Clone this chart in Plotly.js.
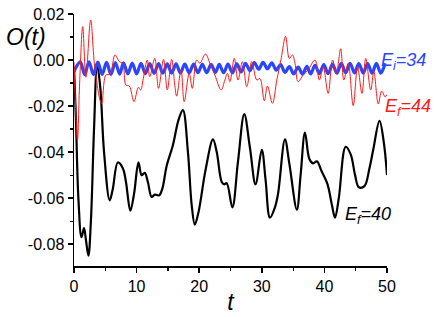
<!DOCTYPE html>
<html>
<head>
<meta charset="utf-8">
<script src="https://cdn.plot.ly/plotly-3.0.1.min.js"></script>
<style>html,body{margin:0;padding:0;background:#fff;}#chart{width:436px;height:317px;}</style>
</head>
<body>
<div id="chart"></div>
<script>
// E_f = 40 (black)
var blackT = [0,0.3,0.7,1.2,1.6,1.9,2.3,2.7,3.2,3.7,4.2,4.8,5.7,6.2,7.0,7.8,8.3,9.0,9.6,10.3,10.8,11.3,11.8,12.4,12.9,13.6,14.1,14.8,15.8,16.7,17.4,18.2,18.8,19.3,19.9,21.0,22.2,22.8,23.6,24.0,24.4,25.3,26.2,27.2,28.1,29.0,30.0,30.6,31.3,32.1,32.6,33.7,34.4,35.6,36.2,36.9,37.6,38.2,38.8,39.5,40.5,41.2,41.7,42.3,43.4,44.2,44.9,45.5,46.4,47.2,47.8,48.8,49.5,50];
var blackV = [-0.003,-0.025,-0.06,-0.077,-0.073,-0.078,-0.085,-0.07,-0.03,-0.002,-0.012,-0.04,-0.061,-0.056,-0.0445,-0.047,-0.053,-0.0655,-0.058,-0.0445,-0.050,-0.049,-0.053,-0.0595,-0.0585,-0.0588,-0.056,-0.046,-0.037,-0.026,-0.0218,-0.040,-0.063,-0.0715,-0.066,-0.048,-0.0345,-0.040,-0.053,-0.054,-0.0535,-0.064,-0.044,-0.0235,-0.038,-0.054,-0.039,-0.052,-0.0685,-0.064,-0.058,-0.0345,-0.045,-0.065,-0.050,-0.0315,-0.043,-0.0449,-0.044,-0.048,-0.054,-0.063,-0.0685,-0.060,-0.0377,-0.041,-0.050,-0.0553,-0.0548,-0.047,-0.039,-0.0264,-0.036,-0.050];

// E_f = 44 (red)
var redT = [0,0.25,0.55,0.9,1.39,1.9,2.66,3.35,4.4,5.1,5.75,6.55,7.24,7.77,8.3,8.84,9.58,10.28,10.65,11.07,11.7,12.1,12.9,13.5,14.3,14.9,15.6,16.1,16.4,17.1,17.6,18.4,18.9,19.6,20.1,21.0,21.7,22.5,23.5,24.1,24.5,24.9,25.6,26.2,26.9,27.6,28.4,29.2,29.7,30.4,30.9,31.7,32.4,33.1,33.8,34.4,34.9,35.3,35.8,36.6,37.4,38.5,39.2,39.8,40.6,41.3,41.9,42.6,43.1,43.8,44.6,45.3,46.0,46.6,47.4,47.9,48.6,49.15,49.7,50];
var redV = [-0.001,-0.02,-0.035,-0.01,0.0145,-0.0075,0.0174,-0.004,-0.019,-0.0065,-0.0062,0.0022,-0.0007,-0.0014,-0.0109,-0.0113,-0.0181,-0.0119,-0.013,-0.008,0.0,-0.0072,0.0007,-0.0123,0.0003,-0.013,0.0003,-0.011,-0.0157,-0.0043,-0.0181,-0.0058,-0.0123,0.0,-0.0014,0.0026,-0.0014,-0.0065,-0.013,-0.0087,-0.0058,-0.0094,0.0007,-0.0087,-0.0007,-0.0116,-0.0007,-0.0087,-0.008,-0.0177,-0.0113,-0.0188,-0.0087,0.0007,0.0103,0.0007,0.0022,-0.0014,-0.0094,-0.0065,-0.0043,0.0,-0.0087,-0.0029,-0.0145,0.0,-0.006,0.0049,-0.0087,-0.0014,-0.0198,-0.0029,-0.0145,0.0007,-0.013,-0.005,-0.0191,-0.0135,-0.016,-0.015];

// E_i = 34 (blue)
var blueT = [0,1.0,1.7,2.4,3.1,3.8,4.5,5.2,5.9,6.6,7.3,7.9,8.6,9.3,10.0,10.7,11.4,12.1,12.8,13.5,14.2,14.9,15.6,16.3,17.0,17.7,18.4,19.1,19.8,20.5,21.2,21.9,22.6,23.2,23.9,24.6,25.3,26.0,26.7,27.4,28.1,28.8,29.5,30.2,30.9,31.6,32.3,33.0,33.7,34.4,35.1,35.8,36.5,37.2,37.8,38.5,39.2,39.9,40.6,41.3,42.0,42.7,43.4,44.1,44.8,45.5,46.2,46.9,47.6,48.3,49.0,49.7];
var blueV = [-0.005,-0.0008,-0.0063,-0.0008,-0.0063,-0.0009,-0.0062,-0.001,-0.0062,-0.0011,-0.0061,-0.0012,-0.006,-0.0013,-0.006,-0.0014,-0.0059,-0.0015,-0.0058,-0.0016,-0.0057,-0.0017,-0.0057,-0.0017,-0.0056,-0.0018,-0.0056,-0.0018,-0.0055,-0.0019,-0.0055,-0.0019,-0.0054,-0.0019,-0.0055,-0.0018,-0.0056,-0.0017,-0.0052,-0.0014,-0.0046,-0.0011,-0.004,-0.001,-0.0038,-0.0012,-0.0044,-0.002,-0.0054,-0.0029,-0.006,-0.0031,-0.0061,-0.0028,-0.006,-0.0023,-0.0059,-0.002,-0.0059,-0.0018,-0.0057,-0.0014,-0.0055,-0.0014,-0.0056,-0.0015,-0.0057,-0.0015,-0.0057,-0.0014,-0.0057,-0.0014];

var yTickVals = [0.02,0.00,-0.02,-0.04,-0.06,-0.08];
var yTickText = ["0.02","0.00","-0.02","-0.04","-0.06","-0.08"];
var xTickVals = [0,10,20,30,40,50];

var fontFam = "Arial, 'Liberation Sans', sans-serif";

var traces = [
  {x: blackT, y: blackV, mode: 'lines', line: {color: '#000000', width: 2.2, shape: 'spline', smoothing: 1}, hoverinfo: 'skip'},
  {x: blueT, y: blueV, mode: 'lines', line: {color: '#2a45ff', width: 3.2, shape: 'spline', smoothing: 1}, hoverinfo: 'skip'},
  {x: redT, y: redV, mode: 'lines', line: {color: '#ff1a1a', width: 1, shape: 'spline', smoothing: 1}, hoverinfo: 'skip'}
];

var layout = {
  width: 436, height: 317,
  margin: {l: 74, r: 49, t: 14, b: 51},
  paper_bgcolor: '#ffffff', plot_bgcolor: '#ffffff',
  showlegend: false,
  font: {family: fontFam, size: 16, color: '#000'},
  xaxis: {
    range: [0, 50], showgrid: false, zeroline: false,
    showline: true, linecolor: '#000', linewidth: 1.5,
    ticks: 'outside', ticklen: 5, tickwidth: 1.5, tickcolor: '#000',
    tickvals: xTickVals, ticktext: xTickVals.map(String),
    minor: {dtick: 5, tick0: 0, ticks: 'outside', ticklen: 3, tickwidth: 1.2, tickcolor: '#000'},
    tickfont: {family: fontFam, size: 16},
    title: {text: '<i>t</i>', font: {family: fontFam, size: 23}, standoff: 0}
  },
  yaxis: {
    range: [-0.0895, 0.02], showgrid: false, zeroline: false,
    showline: true, linecolor: '#000', linewidth: 1.5,
    ticks: 'outside', ticklen: 5, tickwidth: 1.5, tickcolor: '#000',
    tickvals: yTickVals, ticktext: yTickText,
    minor: {dtick: 0.01, tick0: 0, ticks: 'outside', ticklen: 3, tickwidth: 1.2, tickcolor: '#000'},
    tickfont: {family: fontFam, size: 16}
  },
  annotations: [
    {xref: 'paper', yref: 'paper', x: -0.225, y: 0.91, xanchor: 'left', yanchor: 'middle', text: '<i>O(t)</i>', showarrow: false, font: {family: fontFam, size: 23, color: '#000'}},
    {xref: 'x', yref: 'y', x: 48.8, y: -0.0005, xanchor: 'left', yanchor: 'middle', text: '<i>E<sub>i</sub>=34</i>', showarrow: false, font: {family: fontFam, size: 18, color: '#2a45ff'}},
    {xref: 'x', yref: 'y', x: 49.3, y: -0.0205, xanchor: 'left', yanchor: 'middle', text: '<i>E<sub>f</sub>=44</i>', showarrow: false, font: {family: fontFam, size: 18, color: '#ff1a1a'}},
    {xref: 'x', yref: 'y', x: 43.0, y: -0.0675, xanchor: 'left', yanchor: 'middle', text: '<i>E<sub>f</sub>=40</i>', showarrow: false, font: {family: fontFam, size: 18, color: '#000'}}
  ]
};

Plotly.newPlot('chart', traces, layout, {staticPlot: true, displayModeBar: false});
</script>
</body>
</html>
